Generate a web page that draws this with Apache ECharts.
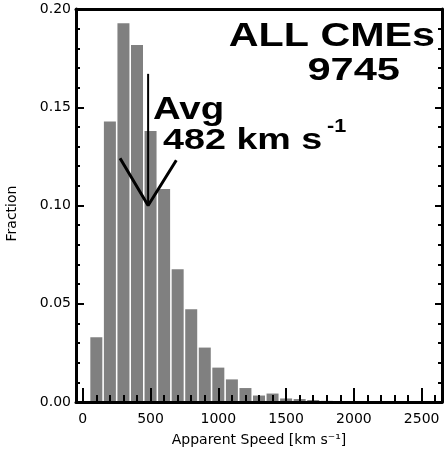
<!DOCTYPE html>
<html>
<head>
<meta charset="utf-8">
<script src="https://cdn.jsdelivr.net/npm/echarts@6/dist/echarts.min.js"></script>
<style>
    html, body { margin: 0; padding: 0; background: #fff; }
    #cme-speed-chart { width: 446px; height: 452px; }
</style>
</head>
<body>
<div id="cme-speed-chart"></div>
<script>
    // bin centres (km/s) and fraction of CMEs in each bin
    const speedBins = [100, 200, 300, 400, 500, 600, 700, 800, 900, 1000, 1100,
        1200, 1300, 1400, 1500, 1600, 1700, 1800, 1900, 2000, 2100, 2200]
    const fractions = [0.0329, 0.1428, 0.1927, 0.1817, 0.1379, 0.1084, 0.0675, 0.0472,
        0.0277, 0.0175, 0.0115, 0.0071, 0.0033, 0.0043, 0.0018, 0.0015, 0.0010,
        0.0006, 0.0004, 0.0003, 0.0002, 0.0001]

    const xMajorTicks = [0, 500, 1000, 1500, 2000, 2500]
    const xMinorTicks = [0, 100, 200, 300, 400, 500, 600, 700, 800, 900, 1000, 1100, 1200,
        1300, 1400, 1500, 1600, 1700, 1800, 1900, 2000, 2100, 2200, 2300, 2400, 2500, 2600]

    const totalCount = 9745
    const avgSpeed = 482
    // avg arrow: shaft and V head, in data units
    const arrowShaft = [[avgSpeed, 0.167], [avgSpeed, 0.100]]
    const arrowHead = [[275, 0.124], [avgSpeed, 0.100], [690, 0.123]]

    let chart = echarts.init(document.getElementById('cme-speed-chart'))

    const tickFont = {fontFamily: 'DejaVu Sans', fontSize: 14, color: '#000'}
    const bold = (size) => `bold ${size}px "Liberation Sans", Arial, sans-serif`
    const frameLine = {onZero: false, lineStyle: {color: '#000', width: 3}}

    let options = {
        backgroundColor: '#fff',
        animation: false,
        grid: {left: 76, right: 4, top: 9, bottom: 50, containLabel: false, outerBoundsMode: 'none'},
        xAxis: [
            {
                type: 'value', position: 'bottom', min: -50, max: 2650, z: 10,
                splitLine: {show: false},
                axisLine: frameLine,
                axisTick: {inside: true, length: 7, customValues: xMinorTicks,
                    lineStyle: {color: '#000', width: 2}},
                axisLabel: Object.assign({customValues: xMajorTicks, margin: 10,
                    formatter: (v) => String(v)}, tickFont),
                name: 'Apparent Speed [km s\u207B\u00B9]',
                nameLocation: 'middle',
                nameGap: 31,
                nameTextStyle: {fontFamily: 'DejaVu Sans', fontSize: 14, color: '#000'}
            },
            {
                type: 'value', position: 'bottom', min: -50, max: 2650, z: 10,
                splitLine: {show: false},
                axisLine: {show: false, onZero: false},
                axisTick: {inside: true, length: 14, customValues: xMajorTicks,
                    lineStyle: {color: '#000', width: 2}},
                axisLabel: {show: false}
            },
            {
                type: 'value', position: 'top', min: -50, max: 2650, z: 10,
                splitLine: {show: false},
                axisLine: frameLine,
                axisTick: {show: false},
                axisLabel: {show: false}
            }
        ],
        yAxis: [
            {
                type: 'value', position: 'left', min: 0, max: 0.2, interval: 0.05, z: 10,
                splitLine: {show: false},
                axisLine: frameLine,
                axisTick: {inside: true, length: 8, lineStyle: {color: '#000', width: 2}},
                minorTick: {show: true, splitNumber: 5, length: 4, lineStyle: {color: '#000', width: 2}},
                axisLabel: Object.assign({margin: 5, formatter: (v) => v.toFixed(2)}, tickFont),
                name: 'Fraction',
                nameLocation: 'middle',
                nameRotate: 90,
                nameGap: 57,
                nameTextStyle: {fontFamily: 'DejaVu Sans', fontSize: 14, color: '#000', padding: [0, 16, 0, 0]}
            },
            {
                type: 'value', position: 'right', min: 0, max: 0.2, interval: 0.05, z: 10,
                splitLine: {show: false},
                axisLine: frameLine,
                axisTick: {inside: true, length: 7, lineStyle: {color: '#000', width: 2}},
                minorTick: {show: true, splitNumber: 5, length: 4, lineStyle: {color: '#000', width: 2}},
                axisLabel: {show: false}
            }
        ],
        series: [
            {
                type: 'bar',
                data: speedBins.map((s, i) => [s, fractions[i]]),
                barWidth: 12,
                itemStyle: {color: '#808080'},
                z: 2
            },
            {
                type: 'line', data: arrowShaft, symbol: 'none', z: 5,
                lineStyle: {color: '#000', width: 2}
            },
            {
                type: 'line', data: arrowHead, symbol: 'none', z: 5,
                lineStyle: {color: '#000', width: 3}
            }
        ],
        graphic: [
            {type: 'text', x: 435, y: 37, scaleX: 1.25,
                style: {text: 'ALL CMEs', font: bold(33), fill: '#000', align: 'right', verticalAlign: 'middle'}},
            {type: 'text', x: 400, y: 71, scaleX: 1.3,
                style: {text: String(totalCount), font: bold(32), fill: '#000', align: 'right', verticalAlign: 'middle'}},
            {type: 'text', x: 153, y: 110, scaleX: 1.2,
                style: {text: 'Avg', font: bold(32), fill: '#000', align: 'left', verticalAlign: 'middle'}},
            {type: 'text', x: 163, y: 141, scaleX: 1.3,
                style: {text: avgSpeed + ' km s', font: bold(29), fill: '#000', align: 'left', verticalAlign: 'middle'}},
            {type: 'text', x: 327, y: 127, scaleX: 1.2,
                style: {text: '-1', font: bold(18), fill: '#000', align: 'left', verticalAlign: 'middle'}}
        ]
    }
    chart.setOption(options)
</script>
</body>
</html>
